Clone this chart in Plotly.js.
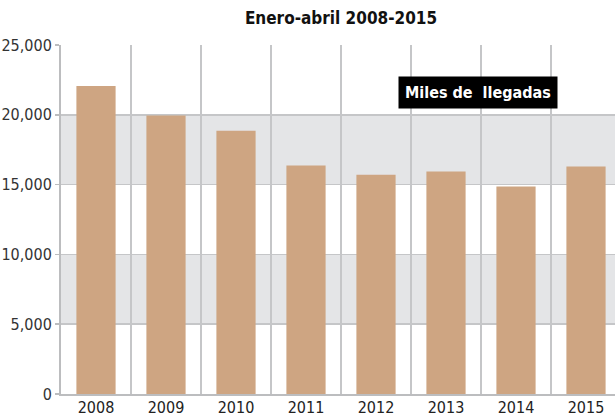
<!DOCTYPE html>
<html>
<head>
<meta charset="utf-8">
<script src="https://cdn.plot.ly/plotly-3.0.1.min.js"></script>
<style>
html, body { margin: 0; padding: 0; overflow: hidden; background: #fff; }
#chart { width: 621px; height: 420px; }
</style>
</head>
<body>
<div id="chart"></div>
<script>
const years = ['2008', '2009', '2010', '2011', '2012', '2013', '2014', '2015'];
const arrivals = [22070, 19950, 18860, 16360, 15710, 15930, 14860, 16290];
const yTicks = [0, 5000, 10000, 15000, 20000, 25000];
const bandStarts = [5000, 15000];
const bandEnds = [10000, 20000];
const titleText = 'Enero-abril 2008-2015';
const labelText = 'Miles de&nbsp;&nbsp;llegadas';

const FONT = '"DejaVu Sans Condensed", "Liberation Sans Narrow", sans-serif';
const GRID = '#c5c6c8';

const shapes = bandStarts.map((s, i) => ({
  type: 'rect', xref: 'paper', yref: 'y', x0: 0, x1: 1, y0: s, y1: bandEnds[i],
  fillcolor: '#e4e5e7', line: { width: 0 }, layer: 'below'
}));

const trace = {
  type: 'bar',
  x: years,
  y: arrivals,
  marker: { color: '#cea582', line: { width: 0 } },
  hoverinfo: 'x+y'
};

const layout = {
  width: 621,
  height: 420,
  margin: { l: 61, r: 0, t: 44.5, b: 26, pad: 0 },
  paper_bgcolor: '#ffffff',
  plot_bgcolor: 'rgba(0,0,0,0)',
  bargap: 0.44,
  showlegend: false,
  title: {
    text: titleText,
    x: 0.5, xref: 'paper', xanchor: 'center',
    y: 1 - 18 / 420, yref: 'container', yanchor: 'middle',
    font: { family: FONT, size: 17, color: '#111111', weight: 'bold' }
  },
  xaxis: {
    type: 'category',
    range: [-0.5, 7.5],
    tickson: 'boundaries',
    showgrid: true,
    gridcolor: GRID,
    gridwidth: 1.5,
    ticks: '',
    showline: true,
    linecolor: '#bcbdbf',
    linewidth: 2,
    ticklabelstandoff: -2,
    tickfont: { family: FONT, size: 16, color: '#222222' },
    fixedrange: true
  },
  yaxis: {
    range: [0, 25000],
    tickvals: yTicks,
    tickformat: ',d',
    showgrid: true,
    gridcolor: GRID,
    gridwidth: 1.5,
    zeroline: false,
    ticks: 'outside',
    ticklen: 4,
    tickwidth: 1.5,
    tickcolor: '#bcbdbf',
    showline: true,
    linecolor: '#bcbdbf',
    linewidth: 2,
    tickfont: { family: FONT, size: 16, color: '#333333' },
    fixedrange: true
  },
  shapes: shapes,
  annotations: [{
    xref: 'paper', yref: 'paper',
    x: 0.7455, y: 0.863,
    xanchor: 'center', yanchor: 'middle',
    text: labelText,
    showarrow: false,
    bgcolor: '#000000',
    borderpad: 6,
    font: { family: FONT, size: 16, color: '#ffffff', weight: 'bold' }
  }]
};

Plotly.newPlot('chart', [trace], layout, { displayModeBar: false, staticPlot: true });
</script>
</body>
</html>
